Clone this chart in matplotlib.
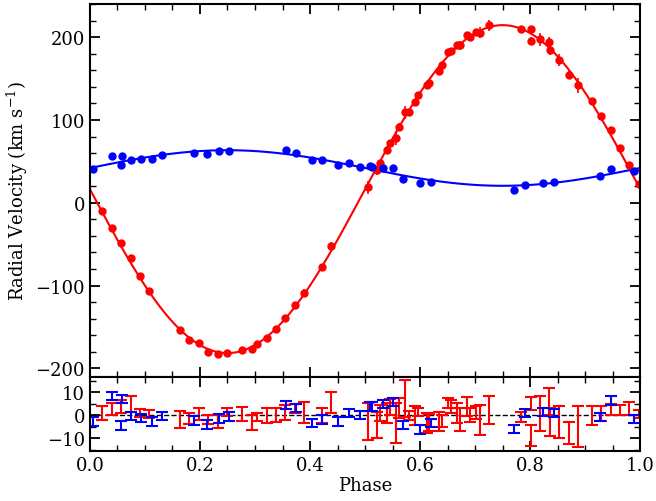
import numpy as np
import matplotlib
matplotlib.use("Agg")
import matplotlib.pyplot as plt
from matplotlib.ticker import MultipleLocator

# red component: phase, radial velocity, residual, error (km/s)
red_phase = [0.022, 0.040, 0.057, 0.074, 0.091, 0.108, 0.164, 0.181, 0.198, 0.215,
             0.232, 0.249, 0.277, 0.294, 0.304, 0.321, 0.338, 0.355, 0.372, 0.389,
             0.422, 0.439, 0.505, 0.521, 0.528, 0.539, 0.546, 0.556, 0.562, 0.573,
             0.580, 0.590, 0.596, 0.613, 0.616, 0.634, 0.640, 0.651, 0.657, 0.667,
             0.673, 0.685, 0.690, 0.702, 0.708, 0.726, 0.784, 0.801, 0.801, 0.818,
             0.835, 0.836, 0.853, 0.870, 0.887, 0.912, 0.929, 0.946, 0.963, 0.980,
             0.997]
red_rv = [-10.1, -30.2, -48.8, -66.9, -88.6, -107.1, -154.2, -165.1, -169.9, -180.0,
          -182.9, -180.8, -178.0, -176.8, -171.1, -162.7, -151.8, -138.9, -123.7, -109.2,
          -77.8, -52.4, 18.5, 39.0, 48.3, 64.0, 72.5, 78.3, 92.1, 109.1,
          109.1, 121.5, 130.0, 142.0, 144.4, 159.4, 166.7, 181.9, 183.1, 190.0,
          190.0, 202.1, 200.0, 206.5, 205.3, 214.1, 209.3, 209.7, 195.7, 197.6,
          194.0, 184.8, 172.2, 154.1, 141.7, 122.3, 104.2, 87.7, 66.4, 45.9,
          22.1]
red_res = [0.9, 2.8, 3.8, 4.9, 0.9, 0.6, -1.9, -1.5, 0.6, -2.0,
           -2.8, 1.3, 0.4, -3.0, -0.9, -0.1, 0.1, 1.3, 2.8, 1.2,
           -0.1, 5.5, -2.9, -4.1, 0.9, 0.9, 3.6, -3.5, 3.0, 7.4,
           -0.1, -0.1, 1.3, -3.5, -3.3, -2.9, -2.5, 5.2, 3.8, 0.9,
           -2.0, 3.8, 0.1, 1.0, -2.0, 2.3, -0.6, 5.1, -8.8, 0.7,
           5.9, -3.0, -3.0, -7.8, -5.1, 0.0, 0.6, 2.5, 2.3, 2.8,
           0.6]
red_err = [2.9, 2.5, 2.9, 3.3, 1.9, 1.8, 3.8, 2.5, 2.5, 2.0,
           2.9, 1.8, 3.1, 3.3, 1.8, 3.3, 2.9, 3.2, 2.0, 4.6,
           3.3, 4.6, 8.1, 5.7, 3.6, 4.3, 3.5, 8.7, 4.3, 8.0,
           1.8, 4.0, 1.8, 4.3, 3.8, 4.2, 2.5, 2.2, 2.9, 4.3,
           5.0, 4.3, 2.9, 2.8, 6.5, 6.2, 2.2, 2.7, 4.7, 7.8,
           5.8, 6.1, 6.9, 4.8, 8.9, 4.2, 3.3, 2.3, 2.2, 2.9,
           1.8]

# blue component
blue_phase = [0.006, 0.040, 0.056, 0.058, 0.075, 0.093, 0.112, 0.131, 0.190, 0.212,
              0.235, 0.253, 0.356, 0.374, 0.404, 0.422, 0.451, 0.470, 0.490, 0.509,
              0.513, 0.532, 0.550, 0.569, 0.600, 0.619, 0.771, 0.790, 0.824, 0.844,
              0.927, 0.946, 0.989]
blue_rv = [40.2, 55.9, 45.4, 56.8, 51.1, 52.3, 53.1, 57.5, 59.9, 59.5,
           62.3, 62.8, 64.0, 60.7, 51.4, 51.1, 45.9, 47.5, 43.8, 44.7,
           43.8, 42.3, 41.4, 28.5, 23.3, 24.5, 14.9, 21.7, 24.2, 24.9,
           31.8, 40.6, 38.6]
blue_res = [-2.8, 8.5, -4.5, 7.1, -0.5, -1.3, -2.8, -0.3, -2.3, -4.1,
            -1.4, -0.6, 4.5, 3.0, -3.3, -1.9, -2.8, 1.0, 0.1, 3.8,
            3.8, 4.9, 5.9, -4.2, -6.2, -3.3, -5.9, 0.9, 1.3, 0.9,
            -0.7, 6.4, -1.6]
blue_err = [1.8] * len(blue_phase)

# orbit fit parameters (circular orbit)
gamma_red, k_red = 16.5, 198.0
gamma_blue, k_blue = 42.0, 21.5

plt.rcParams['font.family'] = 'DejaVu Serif'
plt.rcParams['mathtext.fontset'] = 'dejavuserif'
plt.rcParams['font.size'] = 13
plt.rcParams['axes.linewidth'] = 1.5


def style_axis(ax):
    ax.tick_params(which='both', direction='in', top=True, right=True, labelsize=13)
    ax.tick_params(which='major', length=7, width=1.3)
    ax.tick_params(which='minor', length=4, width=1.0)
    ax.xaxis.set_major_locator(MultipleLocator(0.2))
    ax.xaxis.set_minor_locator(MultipleLocator(0.05))


def main():
    fig = plt.figure(figsize=(6.56, 5.02), dpi=100)
    ax = fig.add_axes([0.137, 0.2476, 0.839, 0.7424])
    axr = fig.add_axes([0.137, 0.1002, 0.839, 0.1474], sharex=ax)

    grid = np.linspace(0, 1, 500)
    ax.plot(grid, gamma_red - k_red * np.sin(2 * np.pi * grid), color='red', lw=1.5)
    ax.plot(grid, gamma_blue + k_blue * np.sin(2 * np.pi * grid), color='blue', lw=1.5)
    ax.errorbar(red_phase, red_rv, yerr=red_err, fmt='o', color='red', ms=5,
                elinewidth=1.2, capsize=0)
    ax.errorbar(blue_phase, blue_rv, yerr=blue_err, fmt='o', color='blue', ms=5,
                elinewidth=1.2, capsize=0)
    ax.set_xlim(0, 1)
    ax.set_ylim(-210, 240)
    ax.yaxis.set_major_locator(MultipleLocator(100))
    ax.yaxis.set_minor_locator(MultipleLocator(20))
    ax.set_ylabel(r'Radial Velocity (km s$^{-1}$)')
    style_axis(ax)
    plt.setp(ax.get_xticklabels(), visible=False)

    # residuals
    axr.axhline(0, color='black', ls='--', lw=1)
    axr.errorbar(red_phase, red_res, yerr=red_err, fmt='none', ecolor='red',
                 elinewidth=1.5, capsize=4, capthick=1.5)
    axr.errorbar(blue_phase, blue_res, yerr=blue_err, fmt='none', ecolor='blue',
                 elinewidth=1.5, capsize=4, capthick=1.5)
    axr.set_ylim(-15.5, 16.8)
    axr.yaxis.set_major_locator(MultipleLocator(10))
    axr.yaxis.set_minor_locator(MultipleLocator(5))
    axr.set_xlabel('Phase', labelpad=2)
    style_axis(axr)

    fig.savefig('out.png', dpi=100)


if __name__ == "__main__":
    main()
